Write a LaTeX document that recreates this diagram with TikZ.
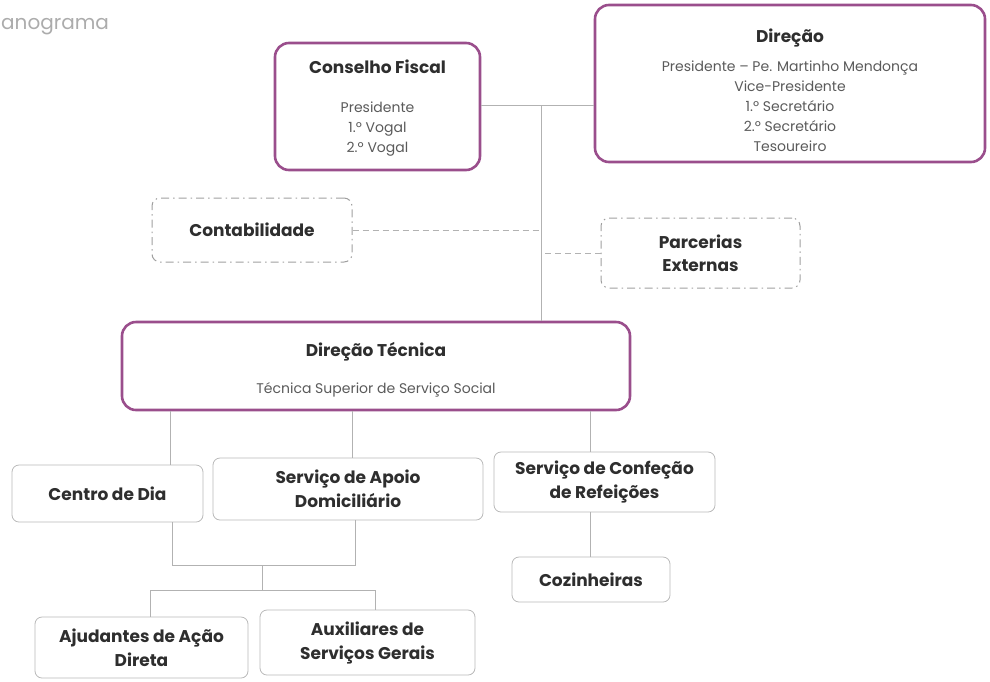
\documentclass[tikz,border=0pt]{standalone}
\usepackage{fontspec}
\setmainfont{Poppins}
\begin{document}
\begin{tikzpicture}[x=1pt,y=-1pt,
  purplebox/.style={draw=boxpurple,line width=2.6pt,rounded corners=14pt,inner sep=0pt},
  graybox/.style={draw=gray!55,line width=0.8pt,rounded corners=7pt,inner sep=0pt,align=center,text=titlecol,font=\fontsize{17}{24}\selectfont\bfseries},
  dashbox/.style={draw=gray!75,line width=1pt,rounded corners=8pt,inner sep=0pt,align=center,text=titlecol,
    dash pattern=on 8pt off 4pt on 1.5pt off 4pt,font=\fontsize{17}{23}\selectfont\bfseries},
  titletxt/.style={text=titlecol,font=\fontsize{17}{22}\selectfont\bfseries,inner sep=0pt},
  bodytxt/.style={text=bodycol,font=\fontsize{14}{20}\selectfont,align=center,inner sep=0pt},
  conn/.style={draw=gray!60,line width=0.8pt},
  dconn/.style={draw=gray!60,line width=0.9pt,dash pattern=on 6pt off 4pt}
]
\definecolor{boxpurple}{HTML}{9A4E8C}
\definecolor{titlecol}{HTML}{2E2E2E}
\definecolor{bodycol}{HTML}{5A5A5A}
\useasboundingbox (0,0) rectangle (990,681);

\node[anchor=west,inner sep=0pt,text=gray!65,font=\fontsize{20}{22}\selectfont] (hdr) at (1,27) {anograma};

% top level
\node[purplebox,minimum width=205pt,minimum height=127pt] (cf) at (377.5,106.5) {};
\node[titletxt] (cft) at (377.5,67) {Conselho Fiscal};
\node[bodytxt] (cfb) at (377.5,129) {Presidente\\1.º Vogal\\2.º Vogal};

\node[purplebox,minimum width=390pt,minimum height=157pt] (dir) at (790,83.5) {};
\node[titletxt] (dirt) at (790,38) {Direção};
\node[bodytxt] (dirb) at (790,106) {Presidente – Pe. Martinho Mendonça\\Vice-Presidente\\1.º Secretário\\2.º Secretário\\Tesoureiro};

% dashed
\node[dashbox,minimum width=200pt,minimum height=64pt] (cont) at (252,230) {Contabilidade};
\node[dashbox,minimum width=199pt,minimum height=70pt] (parc) at (700.5,253) {Parcerias\\Externas};

% technical direction
\node[purplebox,minimum width=508pt,minimum height=88pt] (dt) at (376,366) {};
\node[titletxt] (dtt) at (376,352) {Direção Técnica};
\node[bodytxt] (dtb) at (376,390) {Técnica Superior de Serviço Social};

% services
\node[graybox,minimum width=191pt,minimum height=57pt] (cd) at (107.5,493.5) {Centro de Dia};
\node[graybox,minimum width=270pt,minimum height=62pt] (sad) at (348,489) {Serviço de Apoio\\Domiciliário};
\node[graybox,minimum width=221pt,minimum height=60pt] (conf) at (604.5,482) {Serviço de Confeção\\de Refeições};
\node[graybox,minimum width=158pt,minimum height=45pt] (coz) at (591,579.5) {Cozinheiras};
\node[graybox,minimum width=213pt,minimum height=61pt] (ajd) at (141.5,647.5) {Ajudantes de Ação\\Direta};
\node[graybox,minimum width=215pt,minimum height=65pt] (aux) at (367.5,642.5) {Auxiliares de\\Serviços Gerais};

% coordinates
\coordinate (spine) at (541,105);
\coordinate (x1) at (170,0);
\coordinate (x2) at (352,0);
\coordinate (x3) at (590,0);
\coordinate (jl) at (172,565);
\coordinate (jr) at (355,565);
\coordinate (jm) at (262,565);
\coordinate (jm2) at (262,590);
\coordinate (bl) at (150,590);
\coordinate (br) at (375,590);

% connectors
\draw[conn] (cf.east |- spine) -- (dir.west |- spine);
\draw[conn] (spine) -- (dt.north -| spine);
\draw[dconn] (cont.east) -- (cont.east -| spine);
\draw[dconn] (parc.west) -- (parc.west -| spine);
\draw[conn] (dt.south -| x1) -- (cd.north -| x1);
\draw[conn] (dt.south -| x2) -- (sad.north -| x2);
\draw[conn] (dt.south -| x3) -- (conf.north -| x3);
\draw[conn] (conf.south -| x3) -- (coz.north -| x3);
\draw[conn] (cd.south -| jl) -- (jl) -- (jr) -- (sad.south -| jr);
\draw[conn] (jm) -- (jm2);
\draw[conn] (ajd.north -| bl) -- (bl) -- (br) -- (aux.north -| br);
\end{tikzpicture}
\end{document}
